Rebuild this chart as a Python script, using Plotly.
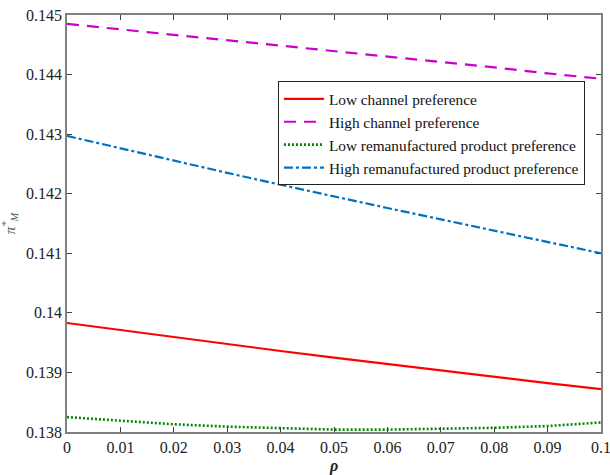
import plotly.graph_objects as go

rho = [0, 0.01, 0.02, 0.03, 0.04, 0.05, 0.06, 0.07, 0.08, 0.09, 0.1]
low_channel = [0.13983, 0.13971, 0.13959, 0.13947, 0.13936, 0.13925, 0.13914, 0.13903, 0.13892, 0.13882, 0.13872]
high_channel = [0.14485, 0.14476, 0.14467, 0.14458, 0.14449, 0.14440, 0.14430, 0.14421, 0.14412, 0.14402, 0.14393]
low_reman = [0.13825, 0.13819, 0.13813, 0.13809, 0.13806, 0.13804, 0.13804, 0.13805, 0.13807, 0.13810, 0.13816]
high_reman = [0.14297, 0.14276, 0.14255, 0.14235, 0.14215, 0.14195, 0.14176, 0.14157, 0.14138, 0.14119, 0.14100]

x_ticks = [0, 0.01, 0.02, 0.03, 0.04, 0.05, 0.06, 0.07, 0.08, 0.09, 0.1]
x_labels = ["0", "0.01", "0.02", "0.03", "0.04", "0.05", "0.06", "0.07", "0.08", "0.09", "0.1"]
y_ticks = [0.138, 0.139, 0.140, 0.141, 0.142, 0.143, 0.144, 0.145]
y_labels = ["0.138", "0.139", "0.14", "0.141", "0.142", "0.143", "0.144", "0.145"]

font = "Times New Roman, Liberation Serif, serif"

fig = go.Figure()
fig.add_trace(go.Scatter(x=rho, y=low_channel, mode="lines", name="Low channel preference",
                         line=dict(color="#ff0000", width=2.2, dash="solid")))
fig.add_trace(go.Scatter(x=rho, y=high_channel, mode="lines", name="High channel preference",
                         line=dict(color="#cc00cc", width=2.2, dash="12px,8px")))
fig.add_trace(go.Scatter(x=rho, y=low_reman, mode="lines", name="Low remanufactured product preference",
                         line=dict(color="#008800", width=2.6, dash="2px,2px")))
fig.add_trace(go.Scatter(x=rho, y=high_reman, mode="lines", name="High remanufactured product preference",
                         line=dict(color="#0072bd", width=2.2, dash="9px,3px,3px,3px")))

axis_common = dict(showline=True, linecolor="#808080", linewidth=1.5, mirror="ticks",
                   ticks="inside", ticklen=5, tickcolor="#404040", showgrid=False, zeroline=False,
                   automargin=False, ticklabeloverflow="allow",
                   tickfont=dict(family=font, size=16, color="#222"))

fig.update_xaxes(range=[0, 0.1], tickvals=x_ticks, ticktext=x_labels, **axis_common,
                 title=dict(text="<b><i>ρ</i></b>", font=dict(family=font, size=16, color="#222"), standoff=6))
fig.update_yaxes(range=[0.138, 0.145], tickvals=y_ticks, ticktext=y_labels, **axis_common,
                 title=dict(text="<i>π<sup>*</sup><sub>M</sub></i>", font=dict(family=font, size=15, color="#555"), standoff=12))

fig.update_layout(
    width=610, height=475,
    margin=dict(l=67, r=9, t=15, b=43),
    plot_bgcolor="white", paper_bgcolor="white",
    legend=dict(x=0.395, y=0.716, xanchor="left", yanchor="middle",
                bordercolor="#222", borderwidth=1, bgcolor="white",
                font=dict(family=font, size=15.3, color="#111"),
                tracegroupgap=0, itemwidth=40),
    showlegend=True,
)

fig.write_html("out.html")
